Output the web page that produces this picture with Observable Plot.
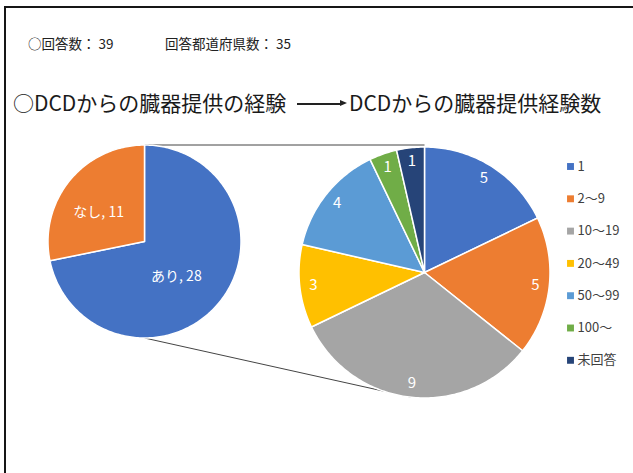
<!DOCTYPE html>
<html><head><meta charset="utf-8">
<script src="https://cdn.jsdelivr.net/npm/d3@7"></script>
<script src="https://cdn.jsdelivr.net/npm/@observablehq/plot@0.6"></script>
<style>
html,body{margin:0;padding:0;background:#fff;}
#wrap{position:relative;width:633px;height:473px;overflow:hidden;font-family:"Noto Sans CJK JP","Noto Sans",sans-serif;color:#222;}
#frame{position:absolute;left:4px;top:6px;width:700px;height:600px;border-left:2px solid #161616;border-top:2px solid #161616;}
.h{position:absolute;white-space:nowrap;line-height:1;}
#arrow{position:absolute;left:297px;top:103px;width:44px;height:1.5px;background:#222;}
#arrow:after{content:"";position:absolute;right:-6px;top:-3px;border-left:7px solid #222;border-top:3.75px solid transparent;border-bottom:3.75px solid transparent;}
#chart{position:absolute;left:0;top:0;}
</style></head>
<body><div id="wrap">
<div id="frame"></div>
<div class="h" style="left:28px;top:37px;font-size:13.5px;">○回答数： 39</div>
<div class="h" style="left:165px;top:37px;font-size:13.5px;">回答都道府県数： 35</div>
<div class="h" style="left:13px;top:92px;font-size:21px;color:#1a1a1a;">○DCDからの臓器提供の経験</div>
<div id="arrow"></div>
<div class="h" style="left:349px;top:92px;font-size:21px;color:#1a1a1a;">DCDからの臓器提供経験数</div>
<div id="chart"></div>
</div>
<script>
// ---- data ----
const experienceLabels = ["あり", "なし"];
const experienceValues = [28, 11];
const countCategories = ["1", "2～9", "10～19", "20～49", "50～99", "100～", "未回答"];
const countValues = [5, 5, 9, 3, 4, 1, 1];

// ---- layout ----
const W = 633, H = 473;
const L = {cx: 144, cy: 241, r: 96.5, labelR: 0.52, prefix: "L"};
const R = {cx: 424, cy: 272, r: 125.5, labelR: 0.89, prefix: "R"};

function pieRows(labels, values, g) {
  const arcs = d3.pie().sort(null).value(d => d.v)(labels.map((l, i) => ({l, v: values[i]})));
  const polys = [], labs = [];
  arcs.forEach(a => {
    const key = g.prefix + a.data.l;
    polys.push({key, cat: a.data.l, x: g.cx, y: g.cy});
    const n = Math.max(2, Math.ceil((a.endAngle - a.startAngle) / (Math.PI / 180)) + 1);
    for (let k = 0; k <= n; k++) {
      const t = a.startAngle + (a.endAngle - a.startAngle) * k / n;
      polys.push({key, cat: a.data.l, x: g.cx + g.r * Math.sin(t), y: g.cy - g.r * Math.cos(t)});
    }
    polys.push({key, cat: a.data.l, x: g.cx, y: g.cy});
    const m = (a.startAngle + a.endAngle) / 2;
    labs.push({cat: a.data.l, v: a.data.v, x: g.cx + g.r * g.labelR * Math.sin(m), y: g.cy - g.r * g.labelR * Math.cos(m)});
  });
  return {polys, labs};
}
const left = pieRows(experienceLabels, experienceValues, L);
const right = pieRows(countCategories, countValues, R);

const bottomAngle = Math.PI * 186 / 180;
const connectors = [
  {x1: L.cx, y1: L.cy - L.r, x2: R.cx, y2: L.cy - L.r},
  {x1: L.cx, y1: L.cy + L.r, x2: R.cx + R.r * Math.sin(bottomAngle), y2: R.cy - R.r * Math.cos(bottomAngle)}
];

const legendRows = countCategories.map((c, i) => ({cat: c, x: 570, y: 166 + i * 32.3}));

const chart = Plot.plot({
  width: W, height: H, margin: 0,
  x: {domain: [0, W], range: [0, W], axis: null},
  y: {domain: [0, H], range: [0, H], axis: null},
  color: {
    domain: [...experienceLabels, ...countCategories],
    range: ["#4472C4", "#ED7D31", "#4472C4", "#ED7D31", "#A5A5A5", "#FFC000", "#5B9BD5", "#70AD47", "#264478"]
  },
  style: {background: "transparent", fontFamily: "'Noto Sans CJK JP','Noto Sans',sans-serif"},
  marks: [
    Plot.link(connectors, {x1: "x1", y1: "y1", x2: "x2", y2: "y2", stroke: "#444", strokeWidth: 1}),
    Plot.line(left.polys, {x: "x", y: "y", z: "key", fill: "cat", stroke: "white", strokeWidth: 1.5, curve: "linear"}),
    Plot.line(right.polys, {x: "x", y: "y", z: "key", fill: "cat", stroke: "white", strokeWidth: 1.5, curve: "linear"}),
    Plot.text(left.labs, {x: "x", y: "y", text: d => `${d.cat}, ${d.v}`, dx: -7, dy: 3, fill: "white", fontSize: 14}),
    Plot.text(right.labs, {x: "x", y: "y", text: d => `${d.v}`, fill: "white", fontSize: 15}),
    Plot.dot(legendRows, {x: "x", y: "y", symbol: "square", r: 3.9, fill: "cat", stroke: null}),
    Plot.text(legendRows, {x: "x", y: "y", text: "cat", dx: 7, textAnchor: "start", fill: "#404040", fontSize: 13})
  ]
});
document.getElementById("chart").appendChild(chart);
</script>
</body></html>
